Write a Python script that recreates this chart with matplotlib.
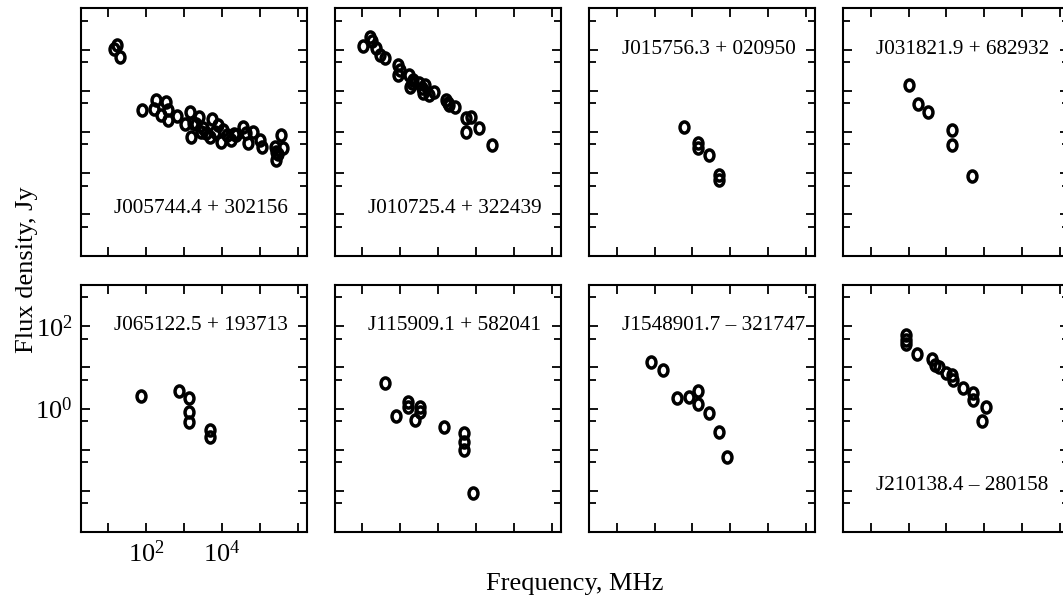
import numpy as np
from matplotlib import pyplot as plt
from matplotlib.path import Path
from matplotlib.ticker import FixedLocator, FixedFormatter, NullFormatter

plt.rcParams['font.family'] = ['Liberation Serif', 'DejaVu Serif']
plt.rcParams['mathtext.fontset'] = 'custom'
plt.rcParams['mathtext.rm'] = 'Liberation Serif'
plt.rcParams['mathtext.it'] = 'Liberation Serif:italic'

# source names, frequency [MHz], flux density [Jy]
names = ["J005744.4 + 302156", "J010725.4 + 322439", "J015756.3 + 020950", "J031821.9 + 682932",
         "J065122.5 + 193713", "J115909.1 + 582041", "J1548901.7 \u2013 321747", "J210138.4 \u2013 280158"]

f1 = [14.5, 17, 20.6, 78, 158, 180, 245, 333, 363, 385, 641, 1030, 1452, 1517, 1683, 2000, 2432, 2692,
      3160, 3656, 5284, 4677, 6300, 7962, 9183, 10840, 13840, 16940, 20000, 23070, 34750, 42660, 47210,
      67000, 96800, 113500, 243200, 258800, 270000, 364800, 404600, 297900]
s1 = [101, 129, 65, 3.4, 3.55, 5.97, 2.58, 5.43, 3.41, 1.95, 2.44, 1.56, 3.1, 0.77, 1.63, 1.6, 2.34, 1.02,
      1.26, 0.93, 2.07, 0.77, 1.0, 1.48, 0.58, 1.12, 0.85, 0.64, 0.9, 0.85, 1.34, 0.93, 0.55,
      0.98, 0.64, 0.44, 0.44, 0.21, 0.33, 0.85, 0.40, 0.30]

f2 = [10.3, 15.5, 17.9, 23.3, 28.6, 38.8, 84.7, 88.3, 100, 169, 180, 200, 222, 313, 370, 400, 453, 579,
      759, 1614, 1780, 1905, 2858, 5508, 5284, 7482, 12020, 25590]
s2 = [122, 198, 164, 107, 73.6, 61.2, 42.2, 24.1, 31.6, 24.1, 12.5, 15.8, 18.2, 15.2, 11.5, 8.9, 13.8, 7.9,
      9.5, 5.97, 5.0, 4.52, 4.1, 2.15, 1.02, 2.27, 1.23, 0.48]

f3 = [597, 1371, 1371, 2723, 5000, 5000]
s3 = [1.30, 0.53, 0.40, 0.277, 0.091, 0.069]

f4 = [102.6, 180, 331, 1422, 1422, 4797]
s4 = [13.8, 4.7, 3.1, 1.12, 0.48, 0.087]

f5 = [73.3, 741, 1365, 1365, 1365, 4699, 4699]
s5 = [2.02, 2.72, 1.78, 0.84, 0.48, 0.30, 0.21]

f6 = [39.4, 78.9, 160, 160, 244, 331, 331, 1422, 4797, 4797, 4797, 8279]
s6 = [4.11, 0.67, 1.47, 1.08, 0.53, 1.11, 0.84, 0.35, 0.25, 0.157, 0.099, 0.0091]

f7 = [78.9, 164, 397, 824, 1422, 1371, 2723, 5000, 8279]
s7 = [13.7, 8.65, 1.78, 1.88, 2.72, 1.29, 0.77, 0.275, 0.066]

f8 = [85.3, 85.3, 85.3, 164, 422, 498, 646, 971, 1371, 1459, 2673, 4909, 4909, 10810, 8492]
s8 = [61.1, 46.2, 37, 21.1, 15.7, 11.4, 10.4, 7.2, 6.55, 4.94, 3.11, 2.35, 1.62, 1.11, 0.50]

freqs = [f1, f2, f3, f4, f5, f6, f7, f8]
fluxes = [s1, s2, s3, s4, s5, s6, s7, s8]
# where the name goes in each panel: 'top' or 'bottom'
label_pos = ['bottom', 'bottom', 'top', 'top', 'top', 'top', 'top', 'bottom']

W, H = 1063, 597
fig = plt.figure(figsize=(W / 100, H / 100), dpi=100)

lefts = [81, 335, 589.3, 843.3]
tops = [8.3, 285]
pw, ph = 225.7, 247.3

# slightly tall open circle like the original
circ = Path.unit_circle()
ell = Path(circ.vertices * np.array([0.8, 1.0]), circ.codes)

ymaj = [1e-2, 1e-1, 1e0, 1e1, 1e2]
ymin = [5e-3, 5e-2, 5e-1, 5, 50, 500]
xmaj = [1e1, 1e2, 1e3, 1e4, 1e5, 1e6]

for i in range(8):
    r, c = divmod(i, 4)
    ax = fig.add_axes([lefts[c] / W, 1 - (tops[r] + ph) / H, pw / W, ph / H])
    ax.set_xscale('log')
    ax.set_yscale('log')
    ax.plot(freqs[i], fluxes[i], linestyle='none', marker=ell, markersize=8,
            markerfacecolor='none', markeredgecolor='black', markeredgewidth=2.5)
    ax.set_xlim(1.9, 1.7e6)
    ax.set_ylim(1e-3, 1e3)

    ax.xaxis.set_major_locator(FixedLocator(xmaj))
    ax.xaxis.set_minor_locator(FixedLocator([]))
    ax.yaxis.set_major_locator(FixedLocator(ymaj))
    ax.yaxis.set_minor_locator(FixedLocator(ymin))
    ax.xaxis.set_minor_formatter(NullFormatter())
    ax.yaxis.set_minor_formatter(NullFormatter())
    if i == 4:
        ax.xaxis.set_major_formatter(FixedFormatter(['', '$10^2$', '', '$10^4$', '', '']))
        ax.yaxis.set_major_formatter(FixedFormatter(['', '', '$10^0$', '', '$10^2$']))
    else:
        ax.xaxis.set_major_formatter(NullFormatter())
        ax.yaxis.set_major_formatter(NullFormatter())

    ax.tick_params(which='both', direction='in', top=True, right=True, width=1.3, labelsize=19)
    ax.tick_params(which='major', length=6.5, pad=6)
    ax.tick_params(which='minor', length=4.7)
    for sp in ax.spines.values():
        sp.set_linewidth(1.5)

    if label_pos[i] == 'top':
        ty = 0.835
    else:
        ty = 0.19
    ax.text(0.144, ty, names[i], transform=ax.transAxes, ha='left', va='center', fontsize=15.3)

fig.text(27 / W, 1 - 270 / H, "Flux density, Jy", rotation=90, ha='center', va='center', fontsize=19)
fig.text(575 / W, 1 - 584 / H, "Frequency, MHz", ha='center', va='center', fontsize=19)

plt.savefig("out.png", dpi=100)
